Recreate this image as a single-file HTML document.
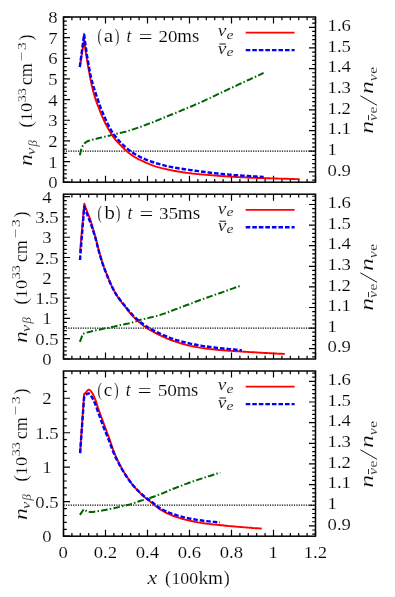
<!DOCTYPE html>
<html>
<head>
<meta charset="utf-8">
<title>Neutrino number densities</title>
<style>
html,body{margin:0;padding:0;background:#fff;}
body{width:395px;height:597px;overflow:hidden;font-family:"Liberation Serif",serif;}
svg{display:block;will-change:transform;}
svg text{font-family:"Liberation Serif",serif;fill:#000;stroke:#fff;stroke-width:0.15px;}
.t{font-size:18px;}
.i{font-size:18px;font-style:italic;stroke-width:0.16px;}
</style>
</head>
<body>
<svg width="395" height="597" viewBox="0 0 395 597">
<rect x="0" y="0" width="395" height="597" fill="#fff"/>
<path d="M63.5,151.2 H315.5" stroke="#000" stroke-width="1.3" stroke-dasharray="1.2 1.2" fill="none"/>
<path d="M63.50,182.2 v-6.5 M63.50,17.0 v6.5 M71.90,182.2 v-3.3 M71.90,17.0 v3.3 M80.30,182.2 v-3.3 M80.30,17.0 v3.3 M88.70,182.2 v-3.3 M88.70,17.0 v3.3 M97.10,182.2 v-3.3 M97.10,17.0 v3.3 M105.50,182.2 v-6.5 M105.50,17.0 v6.5 M113.90,182.2 v-3.3 M113.90,17.0 v3.3 M122.30,182.2 v-3.3 M122.30,17.0 v3.3 M130.70,182.2 v-3.3 M130.70,17.0 v3.3 M139.10,182.2 v-3.3 M139.10,17.0 v3.3 M147.50,182.2 v-6.5 M147.50,17.0 v6.5 M155.90,182.2 v-3.3 M155.90,17.0 v3.3 M164.30,182.2 v-3.3 M164.30,17.0 v3.3 M172.70,182.2 v-3.3 M172.70,17.0 v3.3 M181.10,182.2 v-3.3 M181.10,17.0 v3.3 M189.50,182.2 v-6.5 M189.50,17.0 v6.5 M197.90,182.2 v-3.3 M197.90,17.0 v3.3 M206.30,182.2 v-3.3 M206.30,17.0 v3.3 M214.70,182.2 v-3.3 M214.70,17.0 v3.3 M223.10,182.2 v-3.3 M223.10,17.0 v3.3 M231.50,182.2 v-6.5 M231.50,17.0 v6.5 M239.90,182.2 v-3.3 M239.90,17.0 v3.3 M248.30,182.2 v-3.3 M248.30,17.0 v3.3 M256.70,182.2 v-3.3 M256.70,17.0 v3.3 M265.10,182.2 v-3.3 M265.10,17.0 v3.3 M273.50,182.2 v-6.5 M273.50,17.0 v6.5 M281.90,182.2 v-3.3 M281.90,17.0 v3.3 M290.30,182.2 v-3.3 M290.30,17.0 v3.3 M298.70,182.2 v-3.3 M298.70,17.0 v3.3 M307.10,182.2 v-3.3 M307.10,17.0 v3.3 M315.50,182.2 v-6.5 M315.50,17.0 v6.5 M63.5,182.20 h6.5 M63.5,178.07 h3.3 M63.5,173.94 h3.3 M63.5,169.81 h3.3 M63.5,165.68 h3.3 M63.5,161.55 h6.5 M63.5,157.42 h3.3 M63.5,153.29 h3.3 M63.5,149.16 h3.3 M63.5,145.03 h3.3 M63.5,140.90 h6.5 M63.5,136.77 h3.3 M63.5,132.64 h3.3 M63.5,128.51 h3.3 M63.5,124.38 h3.3 M63.5,120.25 h6.5 M63.5,116.12 h3.3 M63.5,111.99 h3.3 M63.5,107.86 h3.3 M63.5,103.73 h3.3 M63.5,99.60 h6.5 M63.5,95.47 h3.3 M63.5,91.34 h3.3 M63.5,87.21 h3.3 M63.5,83.08 h3.3 M63.5,78.95 h6.5 M63.5,74.82 h3.3 M63.5,70.69 h3.3 M63.5,66.56 h3.3 M63.5,62.43 h3.3 M63.5,58.30 h6.5 M63.5,54.17 h3.3 M63.5,50.04 h3.3 M63.5,45.91 h3.3 M63.5,41.78 h3.3 M63.5,37.65 h6.5 M63.5,33.52 h3.3 M63.5,29.39 h3.3 M63.5,25.26 h3.3 M63.5,21.13 h3.3 M63.5,17.00 h6.5 M315.5,180.13 h-3.3 M315.5,176.00 h-3.3 M315.5,171.87 h-6.5 M315.5,167.74 h-3.3 M315.5,163.62 h-3.3 M315.5,159.48 h-3.3 M315.5,155.35 h-3.3 M315.5,151.22 h-6.5 M315.5,147.09 h-3.3 M315.5,142.96 h-3.3 M315.5,138.83 h-3.3 M315.5,134.70 h-3.3 M315.5,130.57 h-6.5 M315.5,126.44 h-3.3 M315.5,122.32 h-3.3 M315.5,118.19 h-3.3 M315.5,114.06 h-3.3 M315.5,109.92 h-6.5 M315.5,105.80 h-3.3 M315.5,101.66 h-3.3 M315.5,97.53 h-3.3 M315.5,93.41 h-3.3 M315.5,89.27 h-6.5 M315.5,85.14 h-3.3 M315.5,81.01 h-3.3 M315.5,76.88 h-3.3 M315.5,72.76 h-3.3 M315.5,68.63 h-6.5 M315.5,64.50 h-3.3 M315.5,60.37 h-3.3 M315.5,56.23 h-3.3 M315.5,52.10 h-3.3 M315.5,47.97 h-6.5 M315.5,43.84 h-3.3 M315.5,39.72 h-3.3 M315.5,35.58 h-3.3 M315.5,31.45 h-3.3 M315.5,27.32 h-6.5 M315.5,23.19 h-3.3 M315.5,19.07 h-3.3" stroke="#000" stroke-width="1.2" fill="none"/>
<rect x="63.5" y="17.0" width="252.0" height="165.2" fill="none" stroke="#000" stroke-width="1.5"/>
<path d="M79.8,155.2 L81.3,149.2 L82.8,145.7 L84.4,143.6 L85.9,142.2 L87.4,141.3 L88.9,140.7 L90.4,140.2 L92.0,139.8 L93.5,139.4 L95.0,139.0 L96.5,138.7 L98.0,138.3 L99.5,137.9 L101.1,137.6 L102.6,137.2 L104.1,136.9 L105.6,136.5 L107.1,136.1 L108.7,135.7 L110.2,135.4 L111.7,135.0 L113.2,134.6 L114.7,134.2 L116.3,133.8 L117.8,133.4 L119.3,133.1 L120.8,132.7 L122.3,132.4 L123.9,132.0 L125.4,131.7 L126.9,131.3 L128.4,130.9 L129.9,130.4 L131.4,129.9 L133.0,129.4 L134.5,128.9 L136.0,128.4 L137.5,127.9 L139.0,127.4 L140.6,126.8 L142.1,126.3 L143.6,125.7 L145.1,125.1 L146.6,124.5 L148.2,123.9 L149.7,123.3 L151.2,122.7 L152.7,122.2 L154.2,121.6 L155.8,121.0 L157.3,120.4 L158.8,119.8 L160.3,119.1 L161.8,118.5 L163.3,117.9 L164.9,117.3 L166.4,116.6 L167.9,116.0 L169.4,115.4 L170.9,114.8 L172.5,114.2 L174.0,113.6 L175.5,113.0 L177.0,112.3 L178.5,111.7 L180.1,111.1 L181.6,110.4 L183.1,109.8 L184.6,109.2 L186.1,108.5 L187.6,107.9 L189.2,107.3 L190.7,106.7 L192.2,106.0 L193.7,105.4 L195.2,104.7 L196.8,104.0 L198.3,103.4 L199.8,102.7 L201.3,102.0 L202.8,101.3 L204.4,100.6 L205.9,99.9 L207.4,99.2 L208.9,98.5 L210.4,97.8 L212.0,97.0 L213.5,96.3 L215.0,95.6 L216.5,94.9 L218.0,94.1 L219.5,93.4 L221.1,92.7 L222.6,92.0 L224.1,91.3 L225.6,90.6 L227.1,89.9 L228.7,89.1 L230.2,88.4 L231.7,87.7 L233.2,87.0 L234.7,86.3 L236.3,85.6 L237.8,84.9 L239.3,84.2 L240.8,83.5 L242.3,82.8 L243.9,82.1 L245.4,81.4 L246.9,80.7 L248.4,80.0 L249.9,79.3 L251.4,78.6 L253.0,77.9 L254.5,77.2 L256.0,76.5 L257.5,75.8 L259.0,75.1 L260.6,74.3 L262.1,73.6 L263.6,72.9" stroke="#006400" stroke-width="2.0" stroke-dasharray="6.6 2.2 1.5 2.2" fill="none" stroke-linejoin="round"/>
<path d="M79.8,67.0 L84.1,40.0 L85.6,51.1 L87.1,60.9 L88.7,69.6 L90.2,77.8 L91.7,85.1 L93.2,91.3 L94.7,96.6 L96.2,101.3 L97.8,105.5 L99.3,109.3 L100.8,113.1 L102.3,116.7 L103.8,120.1 L105.3,123.3 L106.9,126.3 L108.4,129.0 L109.9,131.6 L111.4,134.0 L112.9,136.3 L114.5,138.4 L116.0,140.3 L117.5,142.0 L119.0,143.7 L120.5,145.2 L122.0,146.8 L123.6,148.3 L125.1,149.7 L126.6,151.0 L128.1,152.2 L129.6,153.5 L131.1,154.6 L132.7,155.7 L134.2,156.7 L135.7,157.7 L137.2,158.5 L138.7,159.3 L140.3,160.0 L141.8,160.7 L143.3,161.4 L144.8,162.1 L146.3,162.8 L147.8,163.4 L149.4,164.1 L150.9,164.7 L152.4,165.3 L153.9,165.9 L155.4,166.4 L156.9,166.9 L158.5,167.3 L160.0,167.7 L161.5,168.1 L163.0,168.4 L164.5,168.8 L166.1,169.1 L167.6,169.5 L169.1,169.8 L170.6,170.1 L172.1,170.4 L173.6,170.7 L175.2,171.0 L176.7,171.3 L178.2,171.5 L179.7,171.8 L181.2,172.0 L182.7,172.3 L184.3,172.5 L185.8,172.7 L187.3,172.9 L188.8,173.1 L190.3,173.3 L191.9,173.5 L193.4,173.6 L194.9,173.8 L196.4,174.0 L197.9,174.1 L199.4,174.2 L201.0,174.4 L202.5,174.5 L204.0,174.6 L205.5,174.7 L207.0,174.9 L208.5,175.0 L210.1,175.1 L211.6,175.2 L213.1,175.4 L214.6,175.5 L216.1,175.6 L217.6,175.7 L219.2,175.8 L220.7,176.0 L222.2,176.1 L223.7,176.2 L225.2,176.3 L226.8,176.4 L228.3,176.5 L229.8,176.6 L231.3,176.7 L232.8,176.8 L234.3,176.9 L235.9,177.0 L237.4,177.1 L238.9,177.1 L240.4,177.2 L241.9,177.3 L243.4,177.4 L245.0,177.4 L246.5,177.5 L248.0,177.6 L249.5,177.7 L251.0,177.7 L252.6,177.8 L254.1,177.8 L255.6,177.9 L257.1,178.0 L258.6,178.0 L260.1,178.1 L261.7,178.1 L263.2,178.1 L264.7,178.2 L266.2,178.2 L267.7,178.3 L269.2,178.3 L270.8,178.4 L272.3,178.4 L273.8,178.4 L275.3,178.5 L276.8,178.5 L278.4,178.6 L279.9,178.6 L281.4,178.6 L282.9,178.7 L284.4,178.7 L285.9,178.8 L287.5,178.8 L289.0,178.9 L290.5,178.9 L292.0,179.0 L293.5,179.0 L295.0,179.1 L296.6,179.1 L298.1,179.2 L299.6,179.2" stroke="#ff0000" stroke-width="1.9" fill="none" stroke-linejoin="round"/>
<path d="M79.8,67.0 L84.1,34.5 L85.6,45.7 L87.1,56.0 L88.7,65.3 L90.2,73.4 L91.7,80.0 L93.2,85.6 L94.8,90.6 L96.3,95.3 L97.8,99.7 L99.3,104.0 L100.8,108.2 L102.4,112.0 L103.9,115.6 L105.4,119.0 L106.9,122.3 L108.5,125.4 L110.0,128.3 L111.5,130.9 L113.0,133.2 L114.5,135.3 L116.1,137.2 L117.6,139.1 L119.1,140.8 L120.6,142.5 L122.2,144.0 L123.7,145.5 L125.2,146.9 L126.7,148.2 L128.2,149.4 L129.8,150.6 L131.3,151.7 L132.8,152.7 L134.3,153.7 L135.8,154.6 L137.4,155.5 L138.9,156.3 L140.4,157.1 L141.9,157.8 L143.5,158.5 L145.0,159.2 L146.5,159.8 L148.0,160.4 L149.5,160.9 L151.1,161.5 L152.6,162.0 L154.1,162.5 L155.6,163.0 L157.2,163.5 L158.7,163.9 L160.2,164.4 L161.7,164.8 L163.2,165.2 L164.8,165.6 L166.3,166.0 L167.8,166.3 L169.3,166.6 L170.9,166.9 L172.4,167.2 L173.9,167.5 L175.4,167.8 L176.9,168.0 L178.5,168.3 L180.0,168.5 L181.5,168.8 L183.0,169.0 L184.6,169.2 L186.1,169.4 L187.6,169.7 L189.1,169.9 L190.6,170.1 L192.2,170.3 L193.7,170.5 L195.2,170.7 L196.7,170.9 L198.3,171.1 L199.8,171.3 L201.3,171.5 L202.8,171.7 L204.3,171.9 L205.9,172.1 L207.4,172.3 L208.9,172.5 L210.4,172.7 L212.0,172.9 L213.5,173.0 L215.0,173.2 L216.5,173.4 L218.0,173.5 L219.6,173.7 L221.1,173.9 L222.6,174.0 L224.1,174.2 L225.6,174.3 L227.2,174.4 L228.7,174.6 L230.2,174.7 L231.7,174.8 L233.3,174.9 L234.8,175.1 L236.3,175.2 L237.8,175.3 L239.3,175.4 L240.9,175.5 L242.4,175.6 L243.9,175.7 L245.4,175.8 L247.0,175.9 L248.5,176.0 L250.0,176.1 L251.5,176.2 L253.0,176.3 L254.6,176.4 L256.1,176.5 L257.6,176.6 L259.1,176.7 L260.7,176.8 L262.2,176.9 L263.7,177.0" stroke="#0000ff" stroke-width="2.4" stroke-dasharray="4.6 1.95" fill="none" stroke-linejoin="round"/>
<text transform="translate(53.0,188.2) scale(1.1,1)" text-anchor="middle" style="font-size:17.0px">0</text>
<text transform="translate(53.0,167.5) scale(1.1,1)" text-anchor="middle" style="font-size:17.0px">1</text>
<text transform="translate(53.0,146.9) scale(1.1,1)" text-anchor="middle" style="font-size:17.0px">2</text>
<text transform="translate(53.0,126.2) scale(1.1,1)" text-anchor="middle" style="font-size:17.0px">3</text>
<text transform="translate(53.0,105.6) scale(1.1,1)" text-anchor="middle" style="font-size:17.0px">4</text>
<text transform="translate(53.0,84.9) scale(1.1,1)" text-anchor="middle" style="font-size:17.0px">5</text>
<text transform="translate(53.0,64.3) scale(1.1,1)" text-anchor="middle" style="font-size:17.0px">6</text>
<text transform="translate(53.0,43.7) scale(1.1,1)" text-anchor="middle" style="font-size:17.0px">7</text>
<text transform="translate(53.0,23.0) scale(1.1,1)" text-anchor="middle" style="font-size:17.0px">8</text>
<text transform="translate(327.6,175.5) scale(1.1,1)" text-anchor="start" style="font-size:17.0px">0.9</text>
<text transform="translate(327.6,154.8) scale(1.1,1)" text-anchor="start" style="font-size:17.0px">1</text>
<text transform="translate(327.6,134.2) scale(1.1,1)" text-anchor="start" style="font-size:17.0px">1.1</text>
<text transform="translate(327.6,113.5) scale(1.1,1)" text-anchor="start" style="font-size:17.0px">1.2</text>
<text transform="translate(327.6,92.9) scale(1.1,1)" text-anchor="start" style="font-size:17.0px">1.3</text>
<text transform="translate(327.6,72.2) scale(1.1,1)" text-anchor="start" style="font-size:17.0px">1.4</text>
<text transform="translate(327.6,51.6) scale(1.1,1)" text-anchor="start" style="font-size:17.0px">1.5</text>
<text transform="translate(327.6,30.9) scale(1.1,1)" text-anchor="start" style="font-size:17.0px">1.6</text>
<text x="97.44" y="41.70" class="t" style="font-size:18px" textLength="4.35" lengthAdjust="spacingAndGlyphs">(</text>
<text x="103.85" y="41.70" class="t" style="font-size:18px" textLength="9.49" lengthAdjust="spacingAndGlyphs">a</text>
<text x="115.11" y="41.70" class="t" style="font-size:18px" textLength="4.35" lengthAdjust="spacingAndGlyphs">)</text>
<text x="126.56" y="41.70" class="i" style="font-size:18px" textLength="4.86" lengthAdjust="spacingAndGlyphs">t</text>
<text x="138.74" y="43.20" class="t" style="font-size:18px" textLength="13.80" lengthAdjust="spacingAndGlyphs">=</text>
<text x="158.49" y="41.70" class="t" style="font-size:17.0px" textLength="19.02" lengthAdjust="spacingAndGlyphs">20</text>
<text x="177.22" y="41.70" class="t" style="font-size:18px" textLength="22.03" lengthAdjust="spacingAndGlyphs">ms</text>
<text x="217.86" y="36.40" class="i" style="font-size:16.4px" textLength="8.62" lengthAdjust="spacingAndGlyphs">ν</text>
<text x="226.53" y="38.90" class="i" style="font-size:13.5px" textLength="7.01" lengthAdjust="spacingAndGlyphs">e</text>
<text x="217.86" y="53.90" class="i" style="font-size:16.4px" textLength="8.62" lengthAdjust="spacingAndGlyphs">ν</text>
<text x="226.53" y="56.10" class="i" style="font-size:13.5px" textLength="7.01" lengthAdjust="spacingAndGlyphs">e</text>
<path d="M219.4,44.0 h6.5" stroke="#000" stroke-width="0.9"/>
<path d="M245.7,32.7 H294.6" stroke="#ff0000" stroke-width="1.7"/>
<path d="M245.7,50.1 H294.6" stroke="#0000ff" stroke-width="2.4" stroke-dasharray="4.6 1.95"/>
<g transform="translate(32.4,166.2) rotate(-90)">
<text x="0.08" y="0.00" class="i" style="font-size:19.0px" textLength="11.76" lengthAdjust="spacingAndGlyphs">n</text>
<text x="11.30" y="2.90" class="i" style="font-size:13.5px" textLength="7.18" lengthAdjust="spacingAndGlyphs">ν</text>
<text x="19.72" y="4.30" class="i" style="font-size:12.0px" textLength="6.38" lengthAdjust="spacingAndGlyphs">β</text>
<text x="38.37" y="0.00" class="t" style="font-size:18px" textLength="6.53" lengthAdjust="spacingAndGlyphs">(</text>
<text x="45.00" y="0.00" class="t" style="font-size:17.0px" textLength="18.29" lengthAdjust="spacingAndGlyphs">10</text>
<text x="64.03" y="-6.70" class="t" style="font-size:11.8px" textLength="14.10" lengthAdjust="spacingAndGlyphs">33</text>
<text x="81.02" y="0.00" class="t" style="font-size:18px" textLength="22.03" lengthAdjust="spacingAndGlyphs">cm</text>
<text x="104.80" y="-6.70" class="t" style="font-size:12.6px" textLength="9.48" lengthAdjust="spacingAndGlyphs">−</text>
<text x="116.17" y="-6.70" class="t" style="font-size:11.8px" textLength="7.71" lengthAdjust="spacingAndGlyphs">3</text>
<text x="125.65" y="0.00" class="t" style="font-size:18px" textLength="6.15" lengthAdjust="spacingAndGlyphs">)</text>
</g>
<g transform="translate(373.0,133.8) rotate(-90)">
<text x="0.10" y="0.00" class="i" style="font-size:19.0px" textLength="12.82" lengthAdjust="spacingAndGlyphs">n</text>
<text x="12.90" y="4.00" class="i" style="font-size:13.5px" textLength="7.08" lengthAdjust="spacingAndGlyphs">ν</text>
<text x="20.43" y="4.20" class="t" style="font-size:11.5px" textLength="6.79" lengthAdjust="spacingAndGlyphs">e</text>
<text x="39.70" y="0.00" class="i" style="font-size:19.0px" textLength="12.82" lengthAdjust="spacingAndGlyphs">n</text>
<text x="52.50" y="4.00" class="i" style="font-size:13.5px" textLength="7.08" lengthAdjust="spacingAndGlyphs">ν</text>
<text x="60.03" y="4.20" class="t" style="font-size:11.5px" textLength="6.79" lengthAdjust="spacingAndGlyphs">e</text>
<path d="M13.6,-4.5 h5.2" stroke="#000" stroke-width="0.8"/>
<path d="M28.5,4.0 L38.0,-12.6" stroke="#000" stroke-width="0.9"/>
</g>
<path d="M63.5,328.1 H315.5" stroke="#000" stroke-width="1.3" stroke-dasharray="1.2 1.2" fill="none"/>
<path d="M63.50,359.0 v-6.5 M63.50,194.2 v6.5 M71.90,359.0 v-3.3 M71.90,194.2 v3.3 M80.30,359.0 v-3.3 M80.30,194.2 v3.3 M88.70,359.0 v-3.3 M88.70,194.2 v3.3 M97.10,359.0 v-3.3 M97.10,194.2 v3.3 M105.50,359.0 v-6.5 M105.50,194.2 v6.5 M113.90,359.0 v-3.3 M113.90,194.2 v3.3 M122.30,359.0 v-3.3 M122.30,194.2 v3.3 M130.70,359.0 v-3.3 M130.70,194.2 v3.3 M139.10,359.0 v-3.3 M139.10,194.2 v3.3 M147.50,359.0 v-6.5 M147.50,194.2 v6.5 M155.90,359.0 v-3.3 M155.90,194.2 v3.3 M164.30,359.0 v-3.3 M164.30,194.2 v3.3 M172.70,359.0 v-3.3 M172.70,194.2 v3.3 M181.10,359.0 v-3.3 M181.10,194.2 v3.3 M189.50,359.0 v-6.5 M189.50,194.2 v6.5 M197.90,359.0 v-3.3 M197.90,194.2 v3.3 M206.30,359.0 v-3.3 M206.30,194.2 v3.3 M214.70,359.0 v-3.3 M214.70,194.2 v3.3 M223.10,359.0 v-3.3 M223.10,194.2 v3.3 M231.50,359.0 v-6.5 M231.50,194.2 v6.5 M239.90,359.0 v-3.3 M239.90,194.2 v3.3 M248.30,359.0 v-3.3 M248.30,194.2 v3.3 M256.70,359.0 v-3.3 M256.70,194.2 v3.3 M265.10,359.0 v-3.3 M265.10,194.2 v3.3 M273.50,359.0 v-6.5 M273.50,194.2 v6.5 M281.90,359.0 v-3.3 M281.90,194.2 v3.3 M290.30,359.0 v-3.3 M290.30,194.2 v3.3 M298.70,359.0 v-3.3 M298.70,194.2 v3.3 M307.10,359.0 v-3.3 M307.10,194.2 v3.3 M315.50,359.0 v-6.5 M315.50,194.2 v6.5 M63.5,359.00 h6.5 M63.5,354.94 h3.3 M63.5,350.88 h3.3 M63.5,346.82 h3.3 M63.5,342.76 h3.3 M63.5,338.70 h6.5 M63.5,334.65 h3.3 M63.5,330.59 h3.3 M63.5,326.53 h3.3 M63.5,322.47 h3.3 M63.5,318.41 h6.5 M63.5,314.35 h3.3 M63.5,310.29 h3.3 M63.5,306.23 h3.3 M63.5,302.17 h3.3 M63.5,298.11 h6.5 M63.5,294.05 h3.3 M63.5,290.00 h3.3 M63.5,285.94 h3.3 M63.5,281.88 h3.3 M63.5,277.82 h6.5 M63.5,273.76 h3.3 M63.5,269.70 h3.3 M63.5,265.64 h3.3 M63.5,261.58 h3.3 M63.5,257.52 h6.5 M63.5,253.46 h3.3 M63.5,249.40 h3.3 M63.5,245.34 h3.3 M63.5,241.29 h3.3 M63.5,237.23 h6.5 M63.5,233.17 h3.3 M63.5,229.11 h3.3 M63.5,225.05 h3.3 M63.5,220.99 h3.3 M63.5,216.93 h6.5 M63.5,212.87 h3.3 M63.5,208.81 h3.3 M63.5,204.75 h3.3 M63.5,200.69 h3.3 M63.5,196.64 h6.5 M315.5,356.94 h-3.3 M315.5,352.82 h-3.3 M315.5,348.70 h-6.5 M315.5,344.58 h-3.3 M315.5,340.46 h-3.3 M315.5,336.34 h-3.3 M315.5,332.22 h-3.3 M315.5,328.10 h-6.5 M315.5,323.98 h-3.3 M315.5,319.86 h-3.3 M315.5,315.74 h-3.3 M315.5,311.62 h-3.3 M315.5,307.50 h-6.5 M315.5,303.38 h-3.3 M315.5,299.26 h-3.3 M315.5,295.14 h-3.3 M315.5,291.02 h-3.3 M315.5,286.90 h-6.5 M315.5,282.78 h-3.3 M315.5,278.66 h-3.3 M315.5,274.54 h-3.3 M315.5,270.42 h-3.3 M315.5,266.30 h-6.5 M315.5,262.18 h-3.3 M315.5,258.06 h-3.3 M315.5,253.94 h-3.3 M315.5,249.82 h-3.3 M315.5,245.70 h-6.5 M315.5,241.58 h-3.3 M315.5,237.46 h-3.3 M315.5,233.34 h-3.3 M315.5,229.22 h-3.3 M315.5,225.10 h-6.5 M315.5,220.98 h-3.3 M315.5,216.86 h-3.3 M315.5,212.74 h-3.3 M315.5,208.62 h-3.3 M315.5,204.50 h-6.5 M315.5,200.38 h-3.3 M315.5,196.26 h-3.3" stroke="#000" stroke-width="1.2" fill="none"/>
<rect x="63.5" y="194.2" width="252.0" height="164.8" fill="none" stroke="#000" stroke-width="1.5"/>
<path d="M79.9,341.9 L82.9,333.9 L84.4,333.4 L85.9,332.9 L87.5,332.4 L89.0,332.0 L90.5,331.6 L92.0,331.2 L93.5,330.8 L95.0,330.5 L96.6,330.1 L98.1,329.8 L99.6,329.5 L101.1,329.2 L102.6,328.8 L104.1,328.5 L105.7,328.3 L107.2,328.0 L108.7,327.7 L110.2,327.4 L111.7,327.0 L113.2,326.7 L114.8,326.4 L116.3,326.0 L117.8,325.7 L119.3,325.4 L120.8,325.0 L122.3,324.7 L123.9,324.4 L125.4,324.1 L126.9,323.8 L128.4,323.5 L129.9,323.1 L131.5,322.7 L133.0,322.3 L134.5,321.8 L136.0,321.4 L137.5,320.8 L139.0,320.3 L140.6,319.8 L142.1,319.4 L143.6,319.0 L145.1,318.7 L146.6,318.3 L148.1,318.0 L149.7,317.6 L151.2,317.2 L152.7,316.9 L154.2,316.5 L155.7,316.1 L157.2,315.8 L158.8,315.4 L160.3,314.9 L161.8,314.4 L163.3,313.9 L164.8,313.4 L166.4,312.8 L167.9,312.3 L169.4,311.7 L170.9,311.1 L172.4,310.5 L173.9,309.9 L175.5,309.3 L177.0,308.8 L178.5,308.2 L180.0,307.6 L181.5,307.1 L183.0,306.5 L184.6,305.9 L186.1,305.3 L187.6,304.8 L189.1,304.2 L190.6,303.6 L192.1,303.1 L193.7,302.5 L195.2,301.9 L196.7,301.3 L198.2,300.8 L199.7,300.2 L201.2,299.7 L202.8,299.1 L204.3,298.6 L205.8,298.0 L207.3,297.5 L208.8,297.0 L210.4,296.4 L211.9,295.9 L213.4,295.4 L214.9,294.8 L216.4,294.3 L217.9,293.7 L219.5,293.2 L221.0,292.7 L222.5,292.1 L224.0,291.6 L225.5,291.0 L227.0,290.5 L228.6,290.0 L230.1,289.4 L231.6,288.9 L233.1,288.4 L234.6,287.8 L236.1,287.3 L237.7,286.8 L239.2,286.2 L240.7,285.7" stroke="#006400" stroke-width="2.0" stroke-dasharray="6.6 2.2 1.5 2.2" fill="none" stroke-linejoin="round"/>
<path d="M80.0,252.5 L84.3,203.6 L85.8,208.0 L87.3,212.1 L88.9,215.9 L90.4,220.1 L91.9,224.9 L93.4,230.0 L94.9,235.3 L96.5,241.0 L98.0,247.2 L99.5,252.9 L101.0,258.1 L102.5,262.9 L104.0,267.3 L105.6,271.3 L107.1,275.1 L108.6,278.9 L110.1,282.6 L111.6,285.9 L113.2,289.0 L114.7,291.9 L116.2,294.5 L117.7,296.9 L119.2,299.1 L120.8,301.2 L122.3,303.1 L123.8,305.0 L125.3,306.9 L126.8,308.9 L128.3,310.9 L129.9,312.8 L131.4,314.6 L132.9,316.2 L134.4,317.8 L135.9,319.3 L137.5,320.7 L139.0,322.1 L140.5,323.3 L142.0,324.5 L143.5,325.7 L145.1,326.8 L146.6,327.9 L148.1,328.9 L149.6,329.8 L151.1,330.7 L152.7,331.5 L154.2,332.3 L155.7,333.1 L157.2,333.9 L158.7,334.7 L160.2,335.4 L161.8,336.1 L163.3,336.8 L164.8,337.5 L166.3,338.2 L167.8,338.8 L169.4,339.5 L170.9,340.1 L172.4,340.6 L173.9,341.2 L175.4,341.7 L177.0,342.2 L178.5,342.7 L180.0,343.1 L181.5,343.6 L183.0,344.0 L184.6,344.4 L186.1,344.8 L187.6,345.2 L189.1,345.5 L190.6,345.9 L192.1,346.2 L193.7,346.5 L195.2,346.8 L196.7,347.1 L198.2,347.4 L199.7,347.6 L201.3,347.9 L202.8,348.1 L204.3,348.3 L205.8,348.5 L207.3,348.7 L208.9,348.9 L210.4,349.1 L211.9,349.2 L213.4,349.4 L214.9,349.5 L216.4,349.7 L218.0,349.8 L219.5,350.0 L221.0,350.1 L222.5,350.2 L224.0,350.3 L225.6,350.5 L227.1,350.6 L228.6,350.7 L230.1,350.8 L231.6,350.9 L233.2,351.0 L234.7,351.1 L236.2,351.2 L237.7,351.3 L239.2,351.4 L240.8,351.5 L242.3,351.6 L243.8,351.7 L245.3,351.8 L246.8,351.9 L248.3,352.0 L249.9,352.1 L251.4,352.2 L252.9,352.2 L254.4,352.3 L255.9,352.4 L257.5,352.5 L259.0,352.6 L260.5,352.7 L262.0,352.8 L263.5,352.9 L265.1,353.0 L266.6,353.0 L268.1,353.1 L269.6,353.2 L271.1,353.3 L272.6,353.4 L274.2,353.5 L275.7,353.5 L277.2,353.6 L278.7,353.7 L280.2,353.8 L281.8,353.8 L283.3,353.9 L284.8,354.0" stroke="#ff0000" stroke-width="1.9" fill="none" stroke-linejoin="round"/>
<path d="M80.0,260.0 L84.2,206.8 L85.7,210.5 L87.2,214.3 L88.7,218.3 L90.3,222.4 L91.8,226.7 L93.3,231.2 L94.8,235.9 L96.3,241.2 L97.8,247.5 L99.4,253.1 L100.9,258.3 L102.4,263.1 L103.9,267.4 L105.4,271.3 L106.9,275.0 L108.4,278.7 L110.0,282.4 L111.5,285.7 L113.0,288.8 L114.5,291.6 L116.0,294.2 L117.5,296.4 L119.1,298.5 L120.6,300.5 L122.1,302.4 L123.6,304.2 L125.1,306.1 L126.6,308.0 L128.1,309.9 L129.7,311.7 L131.2,313.4 L132.7,315.0 L134.2,316.5 L135.7,318.0 L137.2,319.4 L138.8,320.6 L140.3,321.9 L141.8,323.0 L143.3,324.2 L144.8,325.2 L146.3,326.2 L147.8,327.2 L149.4,328.1 L150.9,329.0 L152.4,329.8 L153.9,330.6 L155.4,331.4 L156.9,332.1 L158.5,332.8 L160.0,333.5 L161.5,334.2 L163.0,334.9 L164.5,335.5 L166.0,336.2 L167.5,336.9 L169.1,337.5 L170.6,338.1 L172.1,338.6 L173.6,339.1 L175.1,339.6 L176.6,340.1 L178.2,340.5 L179.7,340.9 L181.2,341.4 L182.7,341.8 L184.2,342.1 L185.7,342.5 L187.2,342.9 L188.8,343.2 L190.3,343.6 L191.8,343.9 L193.3,344.2 L194.8,344.5 L196.3,344.8 L197.9,345.1 L199.4,345.4 L200.9,345.6 L202.4,345.9 L203.9,346.1 L205.4,346.3 L206.9,346.5 L208.5,346.7 L210.0,346.9 L211.5,347.1 L213.0,347.3 L214.5,347.5 L216.0,347.7 L217.6,347.9 L219.1,348.0 L220.6,348.2 L222.1,348.4 L223.6,348.5 L225.1,348.7 L226.6,348.8 L228.2,349.0 L229.7,349.1 L231.2,349.3 L232.7,349.4 L234.2,349.5 L235.7,349.7 L237.3,349.8 L238.8,349.9 L240.3,350.1 L241.8,350.2" stroke="#0000ff" stroke-width="2.4" stroke-dasharray="4.6 1.95" fill="none" stroke-linejoin="round"/>
<text transform="translate(47.0,365.0) scale(1.1,1)" text-anchor="middle" style="font-size:17.0px">0</text>
<text transform="translate(47.0,344.7) scale(1.1,1)" text-anchor="middle" style="font-size:17.0px">0.5</text>
<text transform="translate(47.0,324.4) scale(1.1,1)" text-anchor="middle" style="font-size:17.0px">1</text>
<text transform="translate(47.0,304.1) scale(1.1,1)" text-anchor="middle" style="font-size:17.0px">1.5</text>
<text transform="translate(47.0,283.8) scale(1.1,1)" text-anchor="middle" style="font-size:17.0px">2</text>
<text transform="translate(47.0,263.5) scale(1.1,1)" text-anchor="middle" style="font-size:17.0px">2.5</text>
<text transform="translate(47.0,243.2) scale(1.1,1)" text-anchor="middle" style="font-size:17.0px">3</text>
<text transform="translate(47.0,222.9) scale(1.1,1)" text-anchor="middle" style="font-size:17.0px">3.5</text>
<text transform="translate(47.0,202.6) scale(1.1,1)" text-anchor="middle" style="font-size:17.0px">4</text>
<text transform="translate(327.6,352.3) scale(1.1,1)" text-anchor="start" style="font-size:17.0px">0.9</text>
<text transform="translate(327.6,331.7) scale(1.1,1)" text-anchor="start" style="font-size:17.0px">1</text>
<text transform="translate(327.6,311.1) scale(1.1,1)" text-anchor="start" style="font-size:17.0px">1.1</text>
<text transform="translate(327.6,290.5) scale(1.1,1)" text-anchor="start" style="font-size:17.0px">1.2</text>
<text transform="translate(327.6,269.9) scale(1.1,1)" text-anchor="start" style="font-size:17.0px">1.3</text>
<text transform="translate(327.6,249.3) scale(1.1,1)" text-anchor="start" style="font-size:17.0px">1.4</text>
<text transform="translate(327.6,228.7) scale(1.1,1)" text-anchor="start" style="font-size:17.0px">1.5</text>
<text transform="translate(327.6,208.1) scale(1.1,1)" text-anchor="start" style="font-size:17.0px">1.6</text>
<text x="97.44" y="218.90" class="t" style="font-size:18px" textLength="4.35" lengthAdjust="spacingAndGlyphs">(</text>
<text x="104.60" y="218.90" class="t" style="font-size:18px" textLength="10.38" lengthAdjust="spacingAndGlyphs">b</text>
<text x="116.01" y="218.90" class="t" style="font-size:18px" textLength="4.35" lengthAdjust="spacingAndGlyphs">)</text>
<text x="127.46" y="218.90" class="i" style="font-size:18px" textLength="4.86" lengthAdjust="spacingAndGlyphs">t</text>
<text x="139.64" y="220.40" class="t" style="font-size:18px" textLength="13.80" lengthAdjust="spacingAndGlyphs">=</text>
<text x="158.93" y="218.90" class="t" style="font-size:17.0px" textLength="19.13" lengthAdjust="spacingAndGlyphs">35</text>
<text x="177.76" y="218.90" class="t" style="font-size:18px" textLength="22.41" lengthAdjust="spacingAndGlyphs">ms</text>
<text x="217.86" y="213.60" class="i" style="font-size:16.4px" textLength="8.62" lengthAdjust="spacingAndGlyphs">ν</text>
<text x="226.53" y="216.10" class="i" style="font-size:13.5px" textLength="7.01" lengthAdjust="spacingAndGlyphs">e</text>
<text x="217.86" y="231.10" class="i" style="font-size:16.4px" textLength="8.62" lengthAdjust="spacingAndGlyphs">ν</text>
<text x="226.53" y="233.30" class="i" style="font-size:13.5px" textLength="7.01" lengthAdjust="spacingAndGlyphs">e</text>
<path d="M219.4,221.2 h6.5" stroke="#000" stroke-width="0.9"/>
<path d="M245.7,209.9 H294.6" stroke="#ff0000" stroke-width="1.7"/>
<path d="M245.7,227.3 H294.6" stroke="#0000ff" stroke-width="2.4" stroke-dasharray="4.6 1.95"/>
<g transform="translate(26.6,343.2) rotate(-90)">
<text x="0.08" y="0.00" class="i" style="font-size:19.0px" textLength="11.76" lengthAdjust="spacingAndGlyphs">n</text>
<text x="11.30" y="2.90" class="i" style="font-size:13.5px" textLength="7.18" lengthAdjust="spacingAndGlyphs">ν</text>
<text x="19.72" y="4.30" class="i" style="font-size:12.0px" textLength="6.38" lengthAdjust="spacingAndGlyphs">β</text>
<text x="38.37" y="0.00" class="t" style="font-size:18px" textLength="6.53" lengthAdjust="spacingAndGlyphs">(</text>
<text x="45.00" y="0.00" class="t" style="font-size:17.0px" textLength="18.29" lengthAdjust="spacingAndGlyphs">10</text>
<text x="64.03" y="-6.70" class="t" style="font-size:11.8px" textLength="14.10" lengthAdjust="spacingAndGlyphs">33</text>
<text x="81.02" y="0.00" class="t" style="font-size:18px" textLength="22.03" lengthAdjust="spacingAndGlyphs">cm</text>
<text x="104.80" y="-6.70" class="t" style="font-size:12.6px" textLength="9.48" lengthAdjust="spacingAndGlyphs">−</text>
<text x="116.17" y="-6.70" class="t" style="font-size:11.8px" textLength="7.71" lengthAdjust="spacingAndGlyphs">3</text>
<text x="125.65" y="0.00" class="t" style="font-size:18px" textLength="6.15" lengthAdjust="spacingAndGlyphs">)</text>
</g>
<g transform="translate(373.0,310.8) rotate(-90)">
<text x="0.10" y="0.00" class="i" style="font-size:19.0px" textLength="12.82" lengthAdjust="spacingAndGlyphs">n</text>
<text x="12.90" y="4.00" class="i" style="font-size:13.5px" textLength="7.08" lengthAdjust="spacingAndGlyphs">ν</text>
<text x="20.43" y="4.20" class="t" style="font-size:11.5px" textLength="6.79" lengthAdjust="spacingAndGlyphs">e</text>
<text x="39.70" y="0.00" class="i" style="font-size:19.0px" textLength="12.82" lengthAdjust="spacingAndGlyphs">n</text>
<text x="52.50" y="4.00" class="i" style="font-size:13.5px" textLength="7.08" lengthAdjust="spacingAndGlyphs">ν</text>
<text x="60.03" y="4.20" class="t" style="font-size:11.5px" textLength="6.79" lengthAdjust="spacingAndGlyphs">e</text>
<path d="M13.6,-4.5 h5.2" stroke="#000" stroke-width="0.8"/>
<path d="M28.5,4.0 L38.0,-12.6" stroke="#000" stroke-width="0.9"/>
</g>
<path d="M63.5,505.2 H315.5" stroke="#000" stroke-width="1.3" stroke-dasharray="1.2 1.2" fill="none"/>
<path d="M63.50,536.2 v-6.5 M63.50,371.0 v6.5 M71.90,536.2 v-3.3 M71.90,371.0 v3.3 M80.30,536.2 v-3.3 M80.30,371.0 v3.3 M88.70,536.2 v-3.3 M88.70,371.0 v3.3 M97.10,536.2 v-3.3 M97.10,371.0 v3.3 M105.50,536.2 v-6.5 M105.50,371.0 v6.5 M113.90,536.2 v-3.3 M113.90,371.0 v3.3 M122.30,536.2 v-3.3 M122.30,371.0 v3.3 M130.70,536.2 v-3.3 M130.70,371.0 v3.3 M139.10,536.2 v-3.3 M139.10,371.0 v3.3 M147.50,536.2 v-6.5 M147.50,371.0 v6.5 M155.90,536.2 v-3.3 M155.90,371.0 v3.3 M164.30,536.2 v-3.3 M164.30,371.0 v3.3 M172.70,536.2 v-3.3 M172.70,371.0 v3.3 M181.10,536.2 v-3.3 M181.10,371.0 v3.3 M189.50,536.2 v-6.5 M189.50,371.0 v6.5 M197.90,536.2 v-3.3 M197.90,371.0 v3.3 M206.30,536.2 v-3.3 M206.30,371.0 v3.3 M214.70,536.2 v-3.3 M214.70,371.0 v3.3 M223.10,536.2 v-3.3 M223.10,371.0 v3.3 M231.50,536.2 v-6.5 M231.50,371.0 v6.5 M239.90,536.2 v-3.3 M239.90,371.0 v3.3 M248.30,536.2 v-3.3 M248.30,371.0 v3.3 M256.70,536.2 v-3.3 M256.70,371.0 v3.3 M265.10,536.2 v-3.3 M265.10,371.0 v3.3 M273.50,536.2 v-6.5 M273.50,371.0 v6.5 M281.90,536.2 v-3.3 M281.90,371.0 v3.3 M290.30,536.2 v-3.3 M290.30,371.0 v3.3 M298.70,536.2 v-3.3 M298.70,371.0 v3.3 M307.10,536.2 v-3.3 M307.10,371.0 v3.3 M315.50,536.2 v-6.5 M315.50,371.0 v6.5 M63.5,536.20 h6.5 M63.5,529.30 h3.3 M63.5,522.40 h3.3 M63.5,515.51 h3.3 M63.5,508.61 h3.3 M63.5,501.71 h6.5 M63.5,494.81 h3.3 M63.5,487.92 h3.3 M63.5,481.02 h3.3 M63.5,474.12 h3.3 M63.5,467.22 h6.5 M63.5,460.33 h3.3 M63.5,453.43 h3.3 M63.5,446.53 h3.3 M63.5,439.63 h3.3 M63.5,432.73 h6.5 M63.5,425.84 h3.3 M63.5,418.94 h3.3 M63.5,412.04 h3.3 M63.5,405.14 h3.3 M63.5,398.25 h6.5 M63.5,391.35 h3.3 M63.5,384.45 h3.3 M63.5,377.55 h3.3 M315.5,534.13 h-3.3 M315.5,530.00 h-3.3 M315.5,525.88 h-6.5 M315.5,521.75 h-3.3 M315.5,517.62 h-3.3 M315.5,513.49 h-3.3 M315.5,509.36 h-3.3 M315.5,505.23 h-6.5 M315.5,501.10 h-3.3 M315.5,496.97 h-3.3 M315.5,492.84 h-3.3 M315.5,488.71 h-3.3 M315.5,484.57 h-6.5 M315.5,480.44 h-3.3 M315.5,476.32 h-3.3 M315.5,472.19 h-3.3 M315.5,468.06 h-3.3 M315.5,463.93 h-6.5 M315.5,459.80 h-3.3 M315.5,455.67 h-3.3 M315.5,451.54 h-3.3 M315.5,447.41 h-3.3 M315.5,443.28 h-6.5 M315.5,439.14 h-3.3 M315.5,435.01 h-3.3 M315.5,430.88 h-3.3 M315.5,426.76 h-3.3 M315.5,422.62 h-6.5 M315.5,418.50 h-3.3 M315.5,414.37 h-3.3 M315.5,410.24 h-3.3 M315.5,406.11 h-3.3 M315.5,401.98 h-6.5 M315.5,397.85 h-3.3 M315.5,393.72 h-3.3 M315.5,389.59 h-3.3 M315.5,385.45 h-3.3 M315.5,381.32 h-6.5 M315.5,377.19 h-3.3 M315.5,373.07 h-3.3" stroke="#000" stroke-width="1.2" fill="none"/>
<rect x="63.5" y="371.0" width="252.0" height="165.2" fill="none" stroke="#000" stroke-width="1.5"/>
<path d="M79.9,514.9 L83.7,509.3 L85.2,510.3 L86.7,511.2 L88.3,511.9 L89.8,512.1 L91.3,512.1 L92.8,511.9 L94.3,511.7 L95.8,511.5 L97.4,511.3 L98.9,511.0 L100.4,510.8 L101.9,510.6 L103.4,510.3 L104.9,510.0 L106.5,509.7 L108.0,509.4 L109.5,509.1 L111.0,508.8 L112.5,508.5 L114.1,508.2 L115.6,507.8 L117.1,507.5 L118.6,507.1 L120.1,506.8 L121.6,506.4 L123.2,506.1 L124.7,505.8 L126.2,505.4 L127.7,505.0 L129.2,504.6 L130.8,504.2 L132.3,503.7 L133.8,503.2 L135.3,502.6 L136.8,502.1 L138.3,501.5 L139.9,501.0 L141.4,500.5 L142.9,500.1 L144.4,499.6 L145.9,499.2 L147.4,498.7 L149.0,498.2 L150.5,497.7 L152.0,497.2 L153.5,496.7 L155.0,496.2 L156.6,495.6 L158.1,495.0 L159.6,494.5 L161.1,493.9 L162.6,493.3 L164.1,492.6 L165.7,492.0 L167.2,491.3 L168.7,490.7 L170.2,490.0 L171.7,489.4 L173.2,488.8 L174.8,488.2 L176.3,487.6 L177.8,487.0 L179.3,486.4 L180.8,485.9 L182.4,485.3 L183.9,484.7 L185.4,484.1 L186.9,483.6 L188.4,483.0 L189.9,482.5 L191.5,482.0 L193.0,481.4 L194.5,480.9 L196.0,480.4 L197.5,479.9 L199.1,479.4 L200.6,478.9 L202.1,478.4 L203.6,477.9 L205.1,477.4 L206.6,476.9 L208.2,476.4 L209.7,476.0 L211.2,475.5 L212.7,475.0 L214.2,474.5 L215.7,474.0 L217.3,473.5 L218.8,473.1 L220.3,472.6" stroke="#006400" stroke-width="2.0" stroke-dasharray="6.6 2.2 1.5 2.2" fill="none" stroke-linejoin="round"/>
<path d="M80.1,453.1 L84.1,394.1 L85.8,392.7 L87.3,390.5 L88.8,389.7 L90.4,390.5 L91.9,392.4 L93.4,395.0 L94.9,398.6 L96.4,402.7 L97.9,407.6 L99.5,412.1 L101.0,416.2 L102.5,420.2 L104.0,424.3 L105.5,428.4 L107.0,432.5 L108.6,436.7 L110.1,440.9 L111.6,445.3 L113.1,449.6 L114.6,453.4 L116.1,457.0 L117.7,460.3 L119.2,463.4 L120.7,466.3 L122.2,469.1 L123.7,471.7 L125.2,474.2 L126.8,476.6 L128.3,478.8 L129.8,481.0 L131.3,483.1 L132.8,485.1 L134.4,486.9 L135.9,488.7 L137.4,490.4 L138.9,491.9 L140.4,493.4 L141.9,494.8 L143.5,496.2 L145.0,497.5 L146.5,498.8 L148.0,500.0 L149.5,501.1 L151.0,502.3 L152.6,503.6 L154.1,504.8 L155.6,506.1 L157.1,507.3 L158.6,508.4 L160.1,509.4 L161.7,510.3 L163.2,511.2 L164.7,512.0 L166.2,512.8 L167.7,513.6 L169.2,514.2 L170.8,514.9 L172.3,515.5 L173.8,516.1 L175.3,516.7 L176.8,517.2 L178.4,517.7 L179.9,518.1 L181.4,518.6 L182.9,519.0 L184.4,519.4 L185.9,519.8 L187.5,520.1 L189.0,520.5 L190.5,520.8 L192.0,521.1 L193.5,521.5 L195.0,521.8 L196.6,522.1 L198.1,522.4 L199.6,522.6 L201.1,522.9 L202.6,523.1 L204.1,523.3 L205.7,523.6 L207.2,523.8 L208.7,523.9 L210.2,524.1 L211.7,524.3 L213.2,524.5 L214.8,524.6 L216.3,524.8 L217.8,524.9 L219.3,525.0 L220.8,525.2 L222.4,525.3 L223.9,525.5 L225.4,525.7 L226.9,525.8 L228.4,526.0 L229.9,526.1 L231.5,526.2 L233.0,526.4 L234.5,526.5 L236.0,526.6 L237.5,526.8 L239.0,526.9 L240.6,527.0 L242.1,527.1 L243.6,527.3 L245.1,527.4 L246.6,527.5 L248.1,527.6 L249.7,527.7 L251.2,527.8 L252.7,528.0 L254.2,528.1 L255.7,528.2 L257.2,528.3 L258.8,528.4 L260.3,528.5 L261.8,528.6" stroke="#ff0000" stroke-width="1.9" fill="none" stroke-linejoin="round"/>
<path d="M80.1,453.1 L84.1,397.4 L85.6,395.0 L87.2,393.8 L88.7,393.4 L90.2,394.3 L91.7,396.8 L93.3,399.6 L94.8,403.0 L96.3,406.9 L97.8,411.4 L99.4,415.7 L100.9,419.9 L102.4,424.0 L103.9,428.0 L105.5,431.8 L107.0,435.5 L108.5,439.3 L110.0,443.3 L111.6,447.5 L113.1,451.5 L114.6,455.1 L116.1,458.4 L117.7,461.4 L119.2,464.3 L120.7,467.0 L122.2,469.7 L123.8,472.3 L125.3,474.7 L126.8,477.0 L128.3,479.2 L129.9,481.3 L131.4,483.3 L132.9,485.2 L134.5,487.0 L136.0,488.7 L137.5,490.2 L139.0,491.7 L140.6,493.2 L142.1,494.5 L143.6,495.8 L145.1,497.1 L146.7,498.2 L148.2,499.3 L149.7,500.3 L151.2,501.4 L152.8,502.6 L154.3,503.9 L155.8,505.1 L157.3,506.3 L158.9,507.4 L160.4,508.4 L161.9,509.2 L163.4,510.0 L165.0,510.8 L166.5,511.5 L168.0,512.2 L169.5,512.8 L171.1,513.4 L172.6,513.9 L174.1,514.4 L175.7,514.9 L177.2,515.4 L178.7,515.8 L180.2,516.3 L181.8,516.7 L183.3,517.1 L184.8,517.4 L186.3,517.8 L187.9,518.1 L189.4,518.5 L190.9,518.8 L192.4,519.1 L194.0,519.3 L195.5,519.6 L197.0,519.9 L198.5,520.1 L200.1,520.3 L201.6,520.5 L203.1,520.7 L204.6,520.9 L206.2,521.1 L207.7,521.3 L209.2,521.4 L210.7,521.6 L212.3,521.7 L213.8,521.9 L215.3,522.0 L216.8,522.2 L218.4,522.3 L219.9,522.4" stroke="#0000ff" stroke-width="2.4" stroke-dasharray="4.6 1.95" fill="none" stroke-linejoin="round"/>
<text transform="translate(47.0,542.2) scale(1.1,1)" text-anchor="middle" style="font-size:17.0px">0</text>
<text transform="translate(47.0,507.7) scale(1.1,1)" text-anchor="middle" style="font-size:17.0px">0.5</text>
<text transform="translate(47.0,473.2) scale(1.1,1)" text-anchor="middle" style="font-size:17.0px">1</text>
<text transform="translate(47.0,438.7) scale(1.1,1)" text-anchor="middle" style="font-size:17.0px">1.5</text>
<text transform="translate(47.0,404.2) scale(1.1,1)" text-anchor="middle" style="font-size:17.0px">2</text>
<text transform="translate(327.6,529.5) scale(1.1,1)" text-anchor="start" style="font-size:17.0px">0.9</text>
<text transform="translate(327.6,508.8) scale(1.1,1)" text-anchor="start" style="font-size:17.0px">1</text>
<text transform="translate(327.6,488.2) scale(1.1,1)" text-anchor="start" style="font-size:17.0px">1.1</text>
<text transform="translate(327.6,467.5) scale(1.1,1)" text-anchor="start" style="font-size:17.0px">1.2</text>
<text transform="translate(327.6,446.9) scale(1.1,1)" text-anchor="start" style="font-size:17.0px">1.3</text>
<text transform="translate(327.6,426.2) scale(1.1,1)" text-anchor="start" style="font-size:17.0px">1.4</text>
<text transform="translate(327.6,405.6) scale(1.1,1)" text-anchor="start" style="font-size:17.0px">1.5</text>
<text transform="translate(327.6,384.9) scale(1.1,1)" text-anchor="start" style="font-size:17.0px">1.6</text>
<text x="97.44" y="395.70" class="t" style="font-size:18px" textLength="4.35" lengthAdjust="spacingAndGlyphs">(</text>
<text x="103.88" y="395.70" class="t" style="font-size:18px" textLength="8.47" lengthAdjust="spacingAndGlyphs">c</text>
<text x="114.21" y="395.70" class="t" style="font-size:18px" textLength="4.35" lengthAdjust="spacingAndGlyphs">)</text>
<text x="125.66" y="395.70" class="i" style="font-size:18px" textLength="4.86" lengthAdjust="spacingAndGlyphs">t</text>
<text x="137.84" y="397.20" class="t" style="font-size:18px" textLength="13.80" lengthAdjust="spacingAndGlyphs">=</text>
<text x="157.65" y="395.70" class="t" style="font-size:17.0px" textLength="19.34" lengthAdjust="spacingAndGlyphs">50</text>
<text x="176.69" y="395.70" class="t" style="font-size:18px" textLength="21.65" lengthAdjust="spacingAndGlyphs">ms</text>
<text x="217.86" y="390.40" class="i" style="font-size:16.4px" textLength="8.62" lengthAdjust="spacingAndGlyphs">ν</text>
<text x="226.53" y="392.90" class="i" style="font-size:13.5px" textLength="7.01" lengthAdjust="spacingAndGlyphs">e</text>
<text x="217.86" y="407.90" class="i" style="font-size:16.4px" textLength="8.62" lengthAdjust="spacingAndGlyphs">ν</text>
<text x="226.53" y="410.10" class="i" style="font-size:13.5px" textLength="7.01" lengthAdjust="spacingAndGlyphs">e</text>
<path d="M219.4,398.0 h6.5" stroke="#000" stroke-width="0.9"/>
<path d="M245.7,386.7 H294.6" stroke="#ff0000" stroke-width="1.7"/>
<path d="M245.7,404.1 H294.6" stroke="#0000ff" stroke-width="2.4" stroke-dasharray="4.6 1.95"/>
<g transform="translate(26.6,520.2) rotate(-90)">
<text x="0.08" y="0.00" class="i" style="font-size:19.0px" textLength="11.76" lengthAdjust="spacingAndGlyphs">n</text>
<text x="11.30" y="2.90" class="i" style="font-size:13.5px" textLength="7.18" lengthAdjust="spacingAndGlyphs">ν</text>
<text x="19.72" y="4.30" class="i" style="font-size:12.0px" textLength="6.38" lengthAdjust="spacingAndGlyphs">β</text>
<text x="38.37" y="0.00" class="t" style="font-size:18px" textLength="6.53" lengthAdjust="spacingAndGlyphs">(</text>
<text x="45.00" y="0.00" class="t" style="font-size:17.0px" textLength="18.29" lengthAdjust="spacingAndGlyphs">10</text>
<text x="64.03" y="-6.70" class="t" style="font-size:11.8px" textLength="14.10" lengthAdjust="spacingAndGlyphs">33</text>
<text x="81.02" y="0.00" class="t" style="font-size:18px" textLength="22.03" lengthAdjust="spacingAndGlyphs">cm</text>
<text x="104.80" y="-6.70" class="t" style="font-size:12.6px" textLength="9.48" lengthAdjust="spacingAndGlyphs">−</text>
<text x="116.17" y="-6.70" class="t" style="font-size:11.8px" textLength="7.71" lengthAdjust="spacingAndGlyphs">3</text>
<text x="125.65" y="0.00" class="t" style="font-size:18px" textLength="6.15" lengthAdjust="spacingAndGlyphs">)</text>
</g>
<g transform="translate(373.0,487.8) rotate(-90)">
<text x="0.10" y="0.00" class="i" style="font-size:19.0px" textLength="12.82" lengthAdjust="spacingAndGlyphs">n</text>
<text x="12.90" y="4.00" class="i" style="font-size:13.5px" textLength="7.08" lengthAdjust="spacingAndGlyphs">ν</text>
<text x="20.43" y="4.20" class="t" style="font-size:11.5px" textLength="6.79" lengthAdjust="spacingAndGlyphs">e</text>
<text x="39.70" y="0.00" class="i" style="font-size:19.0px" textLength="12.82" lengthAdjust="spacingAndGlyphs">n</text>
<text x="52.50" y="4.00" class="i" style="font-size:13.5px" textLength="7.08" lengthAdjust="spacingAndGlyphs">ν</text>
<text x="60.03" y="4.20" class="t" style="font-size:11.5px" textLength="6.79" lengthAdjust="spacingAndGlyphs">e</text>
<path d="M13.6,-4.5 h5.2" stroke="#000" stroke-width="0.8"/>
<path d="M28.5,4.0 L38.0,-12.6" stroke="#000" stroke-width="0.9"/>
</g>
<text transform="translate(63.3,558.3) scale(1.1,1)" text-anchor="middle" style="font-size:17.0px">0</text>
<text transform="translate(105.3,558.3) scale(1.1,1)" text-anchor="middle" style="font-size:17.0px">0.2</text>
<text transform="translate(147.3,558.3) scale(1.1,1)" text-anchor="middle" style="font-size:17.0px">0.4</text>
<text transform="translate(189.3,558.3) scale(1.1,1)" text-anchor="middle" style="font-size:17.0px">0.6</text>
<text transform="translate(231.3,558.3) scale(1.1,1)" text-anchor="middle" style="font-size:17.0px">0.8</text>
<text transform="translate(273.3,558.3) scale(1.1,1)" text-anchor="middle" style="font-size:17.0px">1</text>
<text transform="translate(315.3,558.3) scale(1.1,1)" text-anchor="middle" style="font-size:17.0px">1.2</text>
<text x="147.4" y="584.3" class="i" textLength="9.8" lengthAdjust="spacingAndGlyphs">x</text>
<text x="165.0" y="584.3" class="t" textLength="6.0" lengthAdjust="spacingAndGlyphs">(</text>
<text x="171.4" y="584.3" class="t" style="font-size:17.0px" textLength="26.8" lengthAdjust="spacingAndGlyphs">100</text>
<text x="198.4" y="584.3" class="t" textLength="24.6" lengthAdjust="spacingAndGlyphs">km</text>
<text x="223.8" y="584.3" class="t" textLength="6.0" lengthAdjust="spacingAndGlyphs">)</text>
</svg>
</body>
</html>
